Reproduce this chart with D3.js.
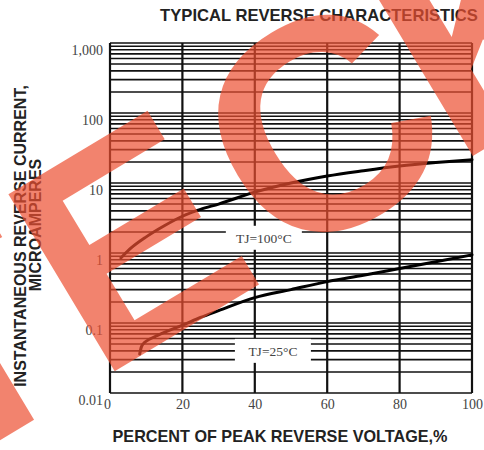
<!DOCTYPE html>
<html><head><meta charset="utf-8">
<script src="https://cdn.jsdelivr.net/npm/d3@7"></script>
<style>
html,body{margin:0;padding:0;background:#fff;}
svg{display:block;}
</style></head>
<body>
<svg id="chart" width="484" height="450"></svg>
<script>
// ---- data ----
const chartTitle = "TYPICAL REVERSE CHARACTERISTICS";
const xTitle = "PERCENT OF PEAK REVERSE VOLTAGE,%";
const yTitle1 = "INSTANTANEOUS REVERSE CURRENT,";
const yTitle2 = "MICROAMPERES";
const xTicks = [0, 20, 40, 60, 80, 100];
const yTicks = [0.01, 0.1, 1, 10, 100, 1000];
const yTickLabels = ["0.01", "0.1", "1", "10", "100", "1,000"];
const seriesNames = ["TJ=100°C", "TJ=25°C"];
const tj100 = [[3,0.85],[6,1.2],[10,1.7],[15,2.45],[20,3.35],[25,4.2],[30,5.0],[40,7.4],[50,10],[60,12.6],[70,15],[80,17.5],[90,19.6],[100,21.5]];
const tj25 = [[8.2,0.036],[8.7,0.046],[9.6,0.053],[11,0.059],[13,0.066],[16,0.077],[20,0.093],[25,0.12],[30,0.15],[40,0.23],[50,0.3],[60,0.39],[70,0.48],[80,0.6],[90,0.75],[100,0.94]];
const labelPos = [[42.5, 1.65], [45, 0.04]]; // [x %, current] for curve labels
const watermark = ["T", "E", "C", "K"];
const watermarkKern = [0, 0, 10, -17];

// ---- layout ----
const svg = d3.select("#chart");
const x = d3.scaleLinear().domain([0, 100]).range([110, 472]);
const y = d3.scaleLog().domain([0.01, 1000]).range([393, 43]);

// minor log grid values
const gridVals = [];
for (let e = -2; e < 3; e++) for (let m = 1; m <= 9; m++) gridVals.push(m * Math.pow(10, e));
gridVals.push(1000);

const g = svg.append("g");
g.selectAll("line.h").data(gridVals).join("line")
  .attr("x1", x(0)).attr("x2", x(100))
  .attr("y1", d => y(d)).attr("y2", d => y(d))
  .attr("stroke", "#111").attr("stroke-width", 1.6);
g.selectAll("line.v").data(xTicks).join("line")
  .attr("x1", d => x(d)).attr("x2", d => x(d))
  .attr("y1", y(1000)).attr("y2", y(0.01))
  .attr("stroke", "#111").attr("stroke-width", 2.2);

// label boxes
const lab = svg.append("g");
lab.selectAll("rect").data(labelPos).join("rect")
  .attr("x", d => x(d[0]) - 38).attr("y", d => y(d[1]) - 12)
  .attr("width", 76).attr("height", 24).attr("fill", "#fff");
lab.selectAll("text").data(labelPos).join("text")
  .attr("x", d => x(d[0])).attr("y", d => y(d[1]) + 5)
  .attr("text-anchor", "middle")
  .attr("font-family", "'Liberation Serif','Times New Roman',serif")
  .attr("font-size", 13.5).attr("fill", "#444")
  .text((d, i) => seriesNames[i]);

// curves
const line = d3.line().x(d => x(d[0])).y(d => y(d[1])).curve(d3.curveMonotoneX);
svg.selectAll("path.curve").data([tj100, tj25]).join("path")
  .attr("class", "curve").attr("d", line)
  .attr("fill", "none").attr("stroke", "#000").attr("stroke-width", 3).attr("stroke-linecap", "round");

// axes
const yAxis = d3.axisLeft(y).tickValues(yTicks).tickSize(0).tickPadding(6)
  .tickFormat((d, i) => yTickLabels[i]);
const ya = svg.append("g").attr("transform", `translate(${x(0) - 1},7)`).call(yAxis);
ya.select(".domain").remove();
ya.selectAll("text").attr("font-family", "'Liberation Serif','Times New Roman',serif")
  .attr("font-size", 14).attr("fill", "#444");

const xAxis = d3.axisBottom(x).tickValues(xTicks).tickSize(0).tickPadding(6);
const xa = svg.append("g").attr("transform", `translate(0,${y(0.01)})`).call(xAxis);
xa.select(".domain").remove();
xa.selectAll("text").attr("font-family", "'Liberation Serif','Times New Roman',serif")
  .attr("font-size", 14).attr("fill", "#444");
xa.selectAll(".tick").filter(d => d === 0).select("text").attr("dx", -3);

// titles
const sans = "'Liberation Sans',Arial,Helvetica,sans-serif";
svg.append("text").attr("x", 319).attr("y", 21).attr("text-anchor", "middle")
  .attr("font-family", sans).attr("font-weight", "bold").attr("font-size", 16.6)
  .attr("fill", "#222").text(chartTitle);
svg.append("text").attr("x", 280).attr("y", 442).attr("text-anchor", "middle")
  .attr("font-family", sans).attr("font-weight", "bold").attr("font-size", 16.2)
  .attr("fill", "#222").text(xTitle);
svg.append("text").attr("transform", "translate(26,236) rotate(-90)").attr("text-anchor", "middle")
  .attr("font-family", sans).attr("font-weight", "bold").attr("font-size", 16)
  .attr("fill", "#222").text(yTitle1);
svg.append("text").attr("transform", "translate(41,225) rotate(-90)").attr("text-anchor", "middle")
  .attr("font-family", sans).attr("font-weight", "bold").attr("font-size", 16)
  .attr("fill", "#222").text(yTitle2);

// watermark
const wm = svg.append("text").attr("transform", "translate(-63,478) rotate(-31)")
  .attr("font-family", sans).attr("font-weight", "bold").attr("font-size", 300)
  .attr("fill", "rgb(236,79,48)").attr("fill-opacity", 0.7)
  .attr("letter-spacing", 4);
wm.selectAll("tspan").data(watermark).join("tspan")
  .attr("dx", (d, i) => watermarkKern[i]).text(d => d);
</script>
</body></html>
